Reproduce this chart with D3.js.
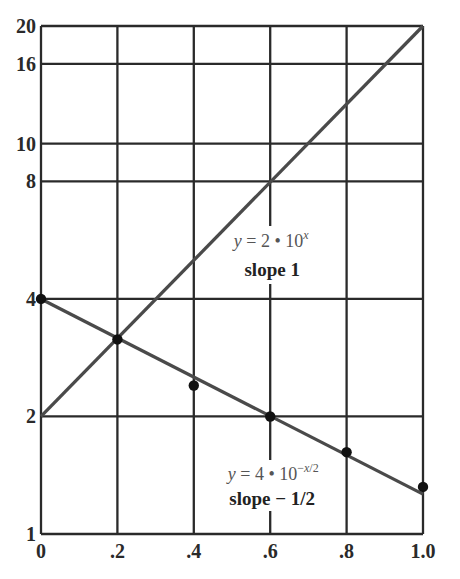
<!DOCTYPE html>
<html><head><meta charset="utf-8">
<script src="https://cdn.jsdelivr.net/npm/d3@7"></script>
<style>body{margin:0;background:#fff}</style>
</head><body>
<svg id="c" width="460" height="579"></svg>
<script>
const xTicks = [0, 0.2, 0.4, 0.6, 0.8, 1.0];
const xTickLabels = ["0", ".2", ".4", ".6", ".8", "1.0"];
const yTicks = [1, 2, 4, 8, 10, 16, 20];
const lineUpX = [0, 1];
const lineUpY = [2, 20];
const lineDownX = [0, 1];
const lineDownY = [4, 1.265];
const pointX = [0, 0.2, 0.4, 0.6, 0.8, 1.0];
const pointY = [4, 3.15, 2.4, 2.0, 1.62, 1.32];

const svg = d3.select("#c");
const x = d3.scaleLinear().domain([0, 1]).range([41, 423]);
const y = d3.scaleLog().domain([1, 20]).range([534, 26]);
const grid = "#2a2a2a";
const serif = "'Liberation Serif','DejaVu Serif',serif";

// grid
svg.append("g").selectAll("line.v").data(xTicks).join("line")
  .attr("x1", d => x(d)).attr("x2", d => x(d)).attr("y1", y(20)).attr("y2", y(1))
  .attr("stroke", grid).attr("stroke-width", 2.3);
svg.append("g").selectAll("line.h").data(yTicks).join("line")
  .attr("x1", x(0)).attr("x2", x(1)).attr("y1", d => y(d)).attr("y2", d => y(d))
  .attr("stroke", grid).attr("stroke-width", 2.3);

// tick labels
svg.append("g").selectAll("text").data(yTicks).join("text")
  .attr("x", 36).attr("y", d => y(d) + 7).attr("text-anchor", "end")
  .attr("font-family", serif).attr("font-weight", "bold").attr("font-size", 20)
  .attr("fill", "#2a2a2a").text(d => d);
svg.append("g").selectAll("text").data(xTicks).join("text")
  .attr("x", d => x(d)).attr("y", 558).attr("text-anchor", "middle")
  .attr("font-family", serif).attr("font-weight", "bold").attr("font-size", 20)
  .attr("fill", "#2a2a2a").text((d, i) => xTickLabels[i]);

// label backgrounds
const bg = svg.append("g");
bg.append("rect").attr("x", x(0.6) - 45).attr("y", 226).attr("width", 95).attr("height", 58).attr("fill", "#fff");
bg.append("rect").attr("x", x(0.6) - 52).attr("y", 460).attr("width", 112).attr("height", 51).attr("fill", "#fff");

// lines
const ln = d3.line().x(d => x(d[0])).y(d => y(d[1]));
svg.append("path").attr("d", ln(d3.zip(lineUpX, lineUpY)))
  .attr("stroke", "#4a4a4a").attr("stroke-width", 3.3).attr("fill", "none");
svg.append("path").attr("d", ln(d3.zip(lineDownX, lineDownY)))
  .attr("stroke", "#4a4a4a").attr("stroke-width", 3.3).attr("fill", "none");

// points
svg.append("g").selectAll("circle").data(d3.zip(pointX, pointY)).join("circle")
  .attr("cx", d => x(d[0])).attr("cy", d => y(d[1])).attr("r", 5.2).attr("fill", "#111");

// labels
const t1 = svg.append("text").attr("x", x(0.6) + 1).attr("y", 247).attr("text-anchor", "middle")
  .attr("font-family", serif).attr("font-size", 18).attr("fill", "#555");
t1.append("tspan").attr("font-style", "italic").text("y");
t1.append("tspan").text(" = 2 • 10");
t1.append("tspan").attr("font-style", "italic").attr("font-size", 12).attr("dy", -8).text("x");
svg.append("text").attr("x", x(0.6) + 2).attr("y", 276).attr("text-anchor", "middle")
  .attr("font-family", serif).attr("font-weight", "bold").attr("font-size", 19).attr("fill", "#222").text("slope 1");

const t2 = svg.append("text").attr("x", x(0.6) + 3).attr("y", 480).attr("text-anchor", "middle")
  .attr("font-family", serif).attr("font-size", 18).attr("fill", "#555");
t2.append("tspan").attr("font-style", "italic").text("y");
t2.append("tspan").text(" = 4 • 10");
t2.append("tspan").attr("font-size", 12).attr("dy", -8).text("−");
t2.append("tspan").attr("font-size", 12).attr("font-style", "italic").text("x");
t2.append("tspan").attr("font-size", 12).text("/2");
svg.append("text").attr("x", x(0.6) + 2).attr("y", 505).attr("text-anchor", "middle")
  .attr("font-family", serif).attr("font-weight", "bold").attr("font-size", 19).attr("fill", "#222").text("slope − 1/2");
</script>
</body></html>
